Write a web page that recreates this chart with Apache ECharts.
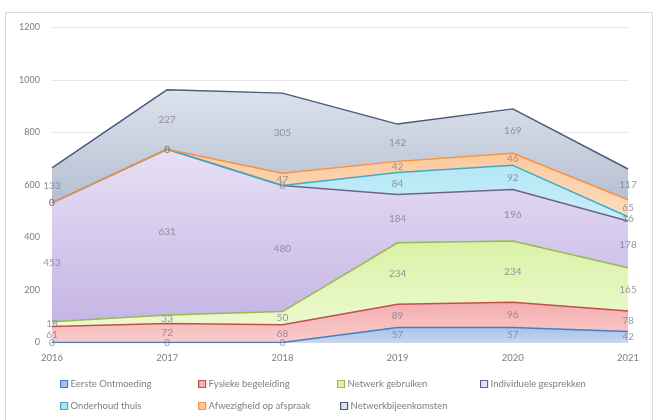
<!DOCTYPE html>
<html>
<head>
<meta charset="utf-8">
<script src="https://cdn.jsdelivr.net/npm/echarts@6/dist/echarts.min.js"></script>
<style>
  html, body { margin: 0; padding: 0; background: #fff; }
  #chart { width: 657px; height: 420px; }
</style>
</head>
<body>
<div id="chart"></div>
<script>
const years = ['2016', '2017', '2018', '2019', '2020', '2021']
const eersteOntmoeding = [0, 0, 0, 57, 57, 42]
const fysiekeBegeleiding = [61, 72, 68, 89, 96, 78]
const netwerkGebruiken = [18, 33, 50, 234, 234, 165]
const individueleGesprekken = [453, 631, 480, 184, 196, 178]
const onderhoudThuis = [0, 0, 0, 84, 92, 16]
const afwezigheid = [0, 0, 47, 42, 46, 65]
const netwerkbijeenkomsten = [133, 227, 305, 142, 169, 117]

const names = [
  'Eerste Ontmoeding', 'Fysieke begeleiding', 'Netwerk gebruiken', 'Individuele gesprekken',
  'Onderhoud thuis', 'Afwezigheid op afspraak', 'Netwerkbijeenkomsten'
]
const values = [
  eersteOntmoeding, fysiekeBegeleiding, netwerkGebruiken, individueleGesprekken,
  onderhoudThuis, afwezigheid, netwerkbijeenkomsten
]

// border colour, fill top, fill bottom
const colors = [
  ['#4a7ebb', '#a9c2ea', '#c4d6f2'],
  ['#c0504d', '#f4aeae', '#f9cccc'],
  ['#98b954', '#d9f2a6', '#ecf9cf'],
  ['#6f6290', '#e7e0f4', '#c5b5e5'],
  ['#46aac5', '#aee5f5', '#c9eef8'],
  ['#f69240', '#fbc99c', '#fcdcbd'],
  ['#4a5a7a', '#dce2ec', '#b5bfd1']
]

const font = 'Lato, "Open Sans", sans-serif'

const areaSeries = names.map((name, k) => ({
  name: name,
  type: 'line',
  stack: 'total',
  symbol: 'none',
  data: values[k],
  lineStyle: { color: colors[k][0], width: 1.5 },
  itemStyle: { color: colors[k][0] },
  areaStyle: {
    opacity: 1,
    color: new echarts.graphic.LinearGradient(0, 0, 0, 1, [
      { offset: 0, color: colors[k][1] },
      { offset: 1, color: colors[k][2] }
    ])
  },
  z: 2
}))

// labels sit in the middle of each band
let below = years.map(() => 0)
const labelSeries = values.map((vals) => {
  const mid = vals.map((v, i) => below[i] + v / 2)
  below = below.map((b, i) => b + vals[i])
  return {
    type: 'scatter',
    symbolSize: 0,
    silent: true,
    data: mid.map((m, i) => ({ value: m, raw: vals[i] })),
    label: {
      show: true,
      position: 'inside',
      formatter: (p) => String(p.data.raw),
      color: '#80808c',
      fontSize: 10,
      fontFamily: font
    },
    z: 5
  }
})

const legendCols = [60, 198, 337, 480, 60, 198, 340]
const legendRows = [379, 379, 379, 379, 401, 401, 401]

const option = {
  animation: false,
  backgroundColor: '#fff',
  graphic: [{
    type: 'rect',
    shape: { x: 5.5, y: 12.5, width: 647, height: 410 },
    style: { fill: 'none', stroke: '#d9d9d9', lineWidth: 1 },
    z: -1
  }],
  legend: names.map((name, k) => ({
    data: [name],
    left: legendCols[k],
    top: legendRows[k],
    itemWidth: 7,
    itemHeight: 7,
    itemGap: 4,
    icon: 'rect',
    padding: 0,
    textStyle: { color: '#7f7f7f', fontSize: 9.5, fontFamily: font, padding: [0, 0, 0, -2] },
    itemStyle: { borderColor: colors[k][0], borderWidth: 1.2, color: colors[k][1] }
  })),
  grid: { left: 52, right: 29, top: 27.5, height: 315 },
  xAxis: {
    type: 'category',
    data: years,
    boundaryGap: false,
    axisLine: { lineStyle: { color: '#d9d9d9' } },
    axisTick: { show: false },
    axisLabel: { color: '#7f7f7f', fontSize: 9.5, fontFamily: font, margin: 10 }
  },
  yAxis: {
    type: 'value',
    min: 0,
    max: 1200,
    interval: 200,
    axisLine: { show: false },
    axisTick: { show: false },
    splitLine: { lineStyle: { color: '#e6e6e6' } },
    axisLabel: {
      color: '#7f7f7f',
      fontSize: 9,
      fontFamily: font,
      margin: 12,
      formatter: (v) => String(v)
    }
  },
  series: areaSeries.concat(labelSeries)
}

const myChart = echarts.init(document.getElementById('chart'))
option && myChart.setOption(option)
</script>
</body>
</html>
